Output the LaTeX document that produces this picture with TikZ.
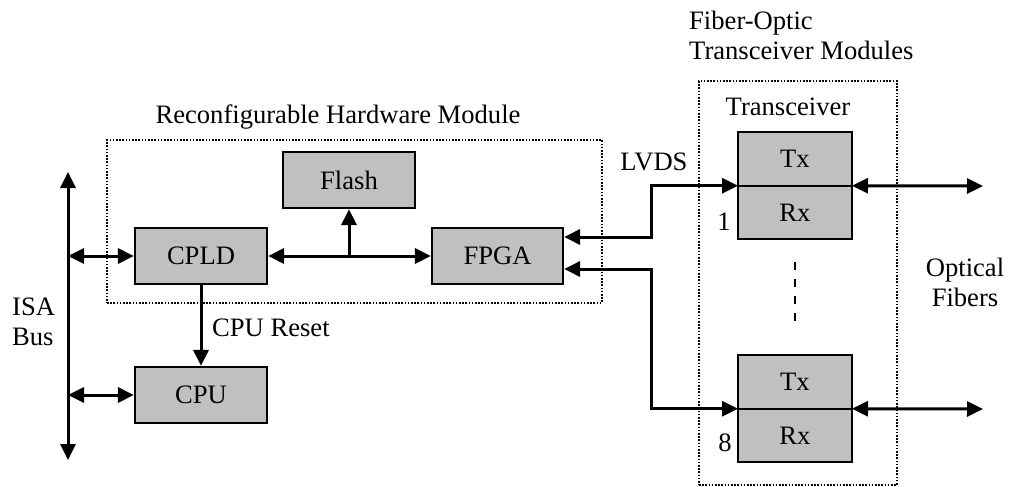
\documentclass[tikz,border=0pt]{standalone}
\usepackage{fontspec}
\setmainfont{Liberation Serif}
\usepackage{xcolor}
\definecolor{boxgray}{RGB}{192, 192, 192}
\usetikzlibrary{arrows.meta, positioning, calc}
\tikzset{
  block/.style={draw=black, fill=boxgray, line width=2.2pt, minimum width=132pt,
    minimum height=56pt, inner sep=0pt},
  half/.style={draw=black, fill=boxgray, line width=2.2pt, minimum width=114pt,
    minimum height=53.5pt, inner sep=0pt, outer sep=0pt},
  module/.style={draw=black, line width=1.6pt, dash pattern=on 1.6pt off 1.6pt},
  link/.style={line width=3pt, -{Triangle[length=16pt, width=15pt]}},
  biway/.style={line width=3pt,
    {Triangle[length=16pt, width=15pt]}-{Triangle[length=16pt, width=15pt]}}
}
\begin{document}
\begin{tikzpicture}[x=1pt, y=-1pt, font=\fontsize{26.6}{30}\selectfont]
  \useasboundingbox (0,0) rectangle (1010,487);

  % dotted module frames
  \node[module, minimum width=495pt, minimum height=163pt] (rhm) at (354.5,221.5) {};
  \node[module, minimum width=198pt, minimum height=404pt] (fom) at (798,283) {};
  \node (rhmtitle) at (338,117) {Reconfigurable Hardware Module};
  \node[anchor=west, align=left, inner sep=0pt] (fomtitle) at (689,35) {Fiber-Optic\\Transceiver Modules};
  \node (trtitle) at (788,107) {Transceiver};

  % blocks
  \node[block] (cpld) at (201,256) {CPLD};
  \node[block] (cpu) at (201,395) {CPU};
  \node[block] (flash) at (349,180) {Flash};
  \node[block, minimum width=131pt] (fpga) at (497.5,256) {FPGA};

  % transceivers
  \node[half] (tx1) at (795,159) {Tx};
  \node[half, below=0pt of tx1] (rx1) {Rx};
  \node[half] (tx8) at (795,382) {Tx};
  \node[half, below=0pt of tx8] (rx8) {Rx};
  \node (n1) at (724,222) {1};
  \node (n8) at (725,443) {8};

  % ISA bus
  \coordinate (isatop) at (68,172);
  \coordinate (isabot) at (68,460);
  \draw[biway] (isatop) -- (isabot);
  \node[anchor=west, align=left, inner sep=0pt] (isa) at (12,322) {ISA\\Bus};
  \draw[biway] (cpld.west -| isatop) -- (cpld.west);
  \draw[biway] (cpu.west -| isatop) -- (cpu.west);

  % on-board links
  \coordinate (jn) at (flash.south |- cpld.east);
  \draw[biway] (cpld.east) -- (fpga.west);
  \draw[link] (jn) -- (flash.south);
  \draw[link] (cpld.south) -- (cpu.north);
  \node[anchor=west, inner sep=0pt] (rst) at (212,328) {CPU Reset};

  % LVDS links
  \draw[biway] ([yshift=19pt]fpga.east) -- ++(87,0) |- (tx1.south west);
  \draw[biway] ([yshift=-13pt]fpga.east) -- ++(87,0) |- (tx8.south west);
  \node (lvds) at (654,162) {LVDS};
  \draw[line width=2pt, dash pattern=on 8pt off 9pt]
    ([yshift=-23pt]rx1.south) -- ([yshift=30pt]tx8.north);

  % optical fibers
  \coordinate (fib1) at (983,186);
  \coordinate (fib8) at (983,409);
  \draw[biway] (tx1.south east) -- (fib1);
  \draw[biway] (tx8.south east) -- (fib8);
  \node[align=center, inner sep=0pt] (fibers) at (965,282) {Optical\\Fibers};
\end{tikzpicture}
\end{document}
